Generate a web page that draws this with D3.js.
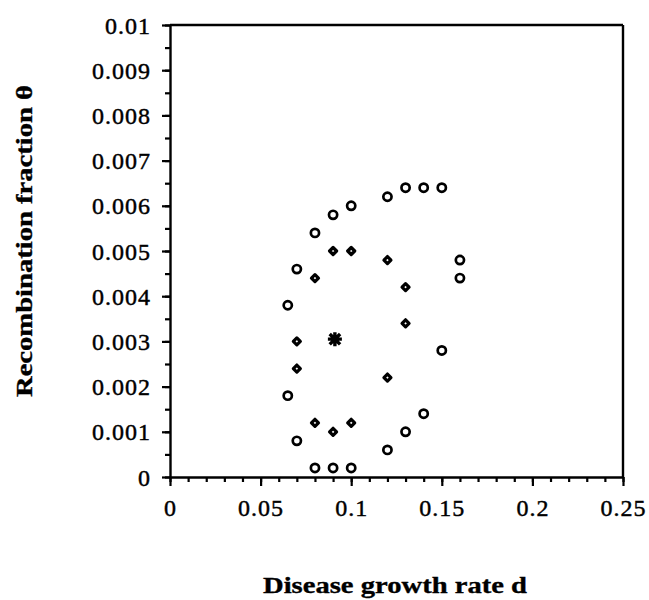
<!DOCTYPE html>
<html>
<head>
<meta charset="utf-8">
<script src="https://cdn.jsdelivr.net/npm/d3@7"></script>
<style>
  html, body { margin: 0; padding: 0; background: #fff; }
  svg { display: block; }
</style>
</head>
<body>
<svg id="chart" width="649" height="600"></svg>
<script>
// ---- data ----
const circleD = [0.13, 0.14, 0.15, 0.12, 0.10, 0.09, 0.08, 0.07, 0.16, 0.16, 0.065, 0.15, 0.065, 0.14, 0.13, 0.07, 0.12, 0.08, 0.09, 0.10];
const circleTheta = [0.0064, 0.0064, 0.0064, 0.0062, 0.0060, 0.0058, 0.0054, 0.0046, 0.0048, 0.0044, 0.0038, 0.0028, 0.0018, 0.0014, 0.0010, 0.0008, 0.0006, 0.0002, 0.0002, 0.0002];
const diamondD = [0.09, 0.10, 0.12, 0.08, 0.13, 0.13, 0.07, 0.07, 0.12, 0.08, 0.10, 0.09];
const diamondTheta = [0.0050, 0.0050, 0.0048, 0.0044, 0.0042, 0.0034, 0.0030, 0.0024, 0.0022, 0.0012, 0.0012, 0.0010];
const starD = [0.091];
const starTheta = [0.00305];
const xTickValues = [0, 0.05, 0.1, 0.15, 0.2, 0.25];
const xTickLabels = ["0", "0.05", "0.1", "0.15", "0.2", "0.25"];
const yTickValues = [0, 0.001, 0.002, 0.003, 0.004, 0.005, 0.006, 0.007, 0.008, 0.009, 0.01];
const yTickLabels = ["0", "0.001", "0.002", "0.003", "0.004", "0.005", "0.006", "0.007", "0.008", "0.009", "0.01"];
const xTitle = "Disease growth rate d";
const yTitle = "Recombination fraction θ";

// ---- layout ----
const svg = d3.select("#chart");
const pLeft = 170, pRight = 623, pTop = 25, pBottom = 477;
const x = d3.scaleLinear().domain([0, 0.25]).range([pLeft, pRight]);
const y = d3.scaleLinear().domain([0, 0.01]).range([pBottom, pTop]);
const font = "'Liberation Serif', 'Times New Roman', serif";

// frame (top & right)
svg.append("line").attr("x1", pLeft).attr("x2", pRight).attr("y1", pTop).attr("y2", pTop)
  .attr("stroke", "#000").attr("stroke-width", 2.4);
svg.append("line").attr("x1", pRight).attr("x2", pRight).attr("y1", pTop).attr("y2", pBottom)
  .attr("stroke", "#000").attr("stroke-width", 2.4);

// minor ticks
const xMinor = d3.range(0, 26).map(i => i / 100);
const yMinor = d3.range(0, 21).map(i => i / 2000);
svg.append("g").attr("transform", `translate(0,${pBottom})`)
  .call(d3.axisBottom(x).tickValues(xMinor).tickSize(5).tickFormat(""))
  .call(g => g.select(".domain").remove())
  .call(g => g.selectAll("line").attr("stroke-width", 2.2));
svg.append("g").attr("transform", `translate(${pLeft},0)`)
  .call(d3.axisLeft(y).tickValues(yMinor).tickSize(5).tickFormat(""))
  .call(g => g.select(".domain").remove())
  .call(g => g.selectAll("line").attr("stroke-width", 2.2));

// major axes
const xAxis = svg.append("g").attr("transform", `translate(0,${pBottom})`)
  .call(d3.axisBottom(x).tickValues(xTickValues).tickSize(9).tickSizeOuter(0).tickPadding(13)
    .tickFormat((d, i) => xTickLabels[i]));
const yAxis = svg.append("g").attr("transform", `translate(${pLeft},0)`)
  .call(d3.axisLeft(y).tickValues(yTickValues).tickSize(8).tickSizeOuter(0).tickPadding(11)
    .tickFormat((d, i) => yTickLabels[i]));
[xAxis, yAxis].forEach(g => {
  g.select(".domain").attr("stroke-width", 2.4);
  g.selectAll("line").attr("stroke-width", 2.2);
  g.selectAll("text").attr("font-family", font).attr("font-size", 24)
    .attr("letter-spacing", "1px").attr("fill", "#000")
    .attr("stroke", "#000").attr("stroke-width", 0.45);
});
yAxis.selectAll("text").attr("dy", "0.34em");

// titles
svg.append("text").attr("x", 395).attr("y", 593).attr("text-anchor", "middle")
  .attr("font-family", font).attr("font-weight", "bold").attr("font-size", 24)
  .attr("stroke", "#000").attr("stroke-width", 0.35)
  .attr("textLength", 264).attr("lengthAdjust", "spacingAndGlyphs")
  .text(xTitle);
svg.append("text").attr("transform", "translate(32,241) rotate(-90)").attr("text-anchor", "middle")
  .attr("font-family", font).attr("font-weight", "bold").attr("font-size", 24)
  .attr("stroke", "#000").attr("stroke-width", 0.35)
  .attr("textLength", 312).attr("lengthAdjust", "spacingAndGlyphs")
  .text(yTitle);

// marks
const circles = circleD.map((d, i) => ({ d, t: circleTheta[i] }));
const diamonds = diamondD.map((d, i) => ({ d, t: diamondTheta[i] }));
const stars = starD.map((d, i) => ({ d, t: starTheta[i] }));

svg.append("g").selectAll("circle").data(circles).join("circle")
  .attr("cx", p => x(p.d)).attr("cy", p => y(p.t)).attr("r", 4.1)
  .attr("fill", "#fff").attr("stroke", "#000").attr("stroke-width", 2.7);

const ds = 3.5;
svg.append("g").selectAll("path").data(diamonds).join("path")
  .attr("transform", p => `translate(${x(p.d)},${y(p.t)})`)
  .attr("d", `M0,${-ds}L${ds},0L0,${ds}L${-ds},0Z`)
  .attr("fill", "#fff").attr("stroke", "#000").attr("stroke-width", 3.2).attr("stroke-linejoin", "round");

const sl = 7, sd = 5.2;
svg.append("g").selectAll("path").data(stars).join("path")
  .attr("transform", p => `translate(${x(p.d)},${y(p.t)})`)
  .attr("d", `M0,${-sl}V${sl}M${-sl},0H${sl}M${-sd},${-sd}L${sd},${sd}M${-sd},${sd}L${sd},${-sd}`)
  .attr("fill", "none").attr("stroke", "#000").attr("stroke-width", 3.4);
</script>
</body>
</html>
